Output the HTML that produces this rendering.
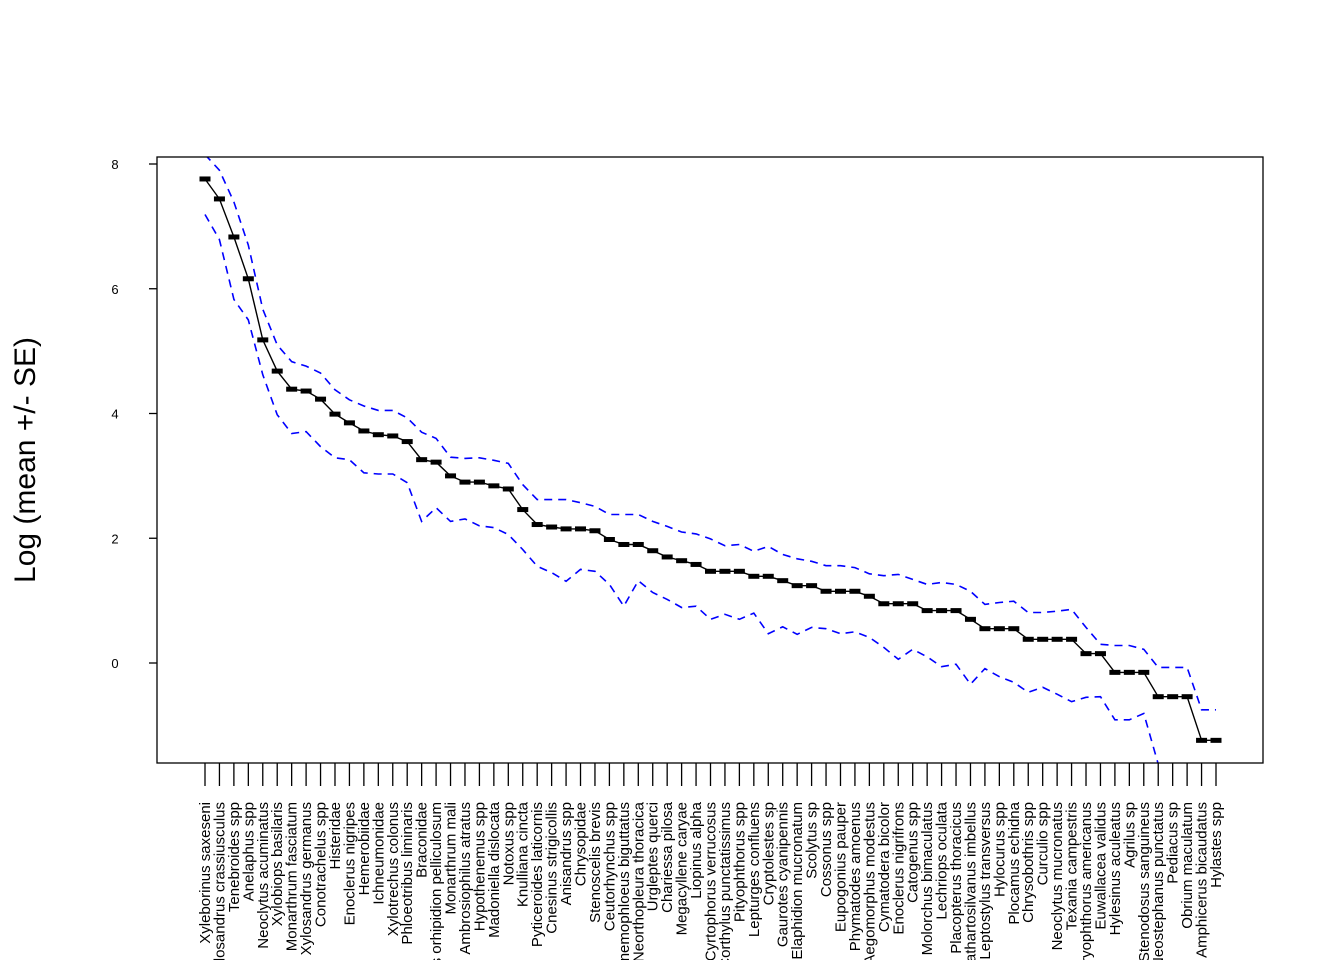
<!DOCTYPE html>
<html><head><meta charset="utf-8"><style>
html,body{margin:0;padding:0;background:#fff;width:1344px;height:960px;overflow:hidden}
svg{display:block;font-family:"Liberation Sans",Arial,sans-serif;overflow:hidden}
</style></head><body>
<svg id="chart" width="1344" height="960" viewBox="0 0 1344 960" xmlns="http://www.w3.org/2000/svg">
<defs>
<clipPath id="pc"><rect x="157" y="157" width="1106" height="606"/></clipPath>
<clipPath id="fc"><rect x="0" y="0" width="1344" height="960"/></clipPath>
</defs>
<rect x="0" y="0" width="1344" height="960" fill="#fff"/>
<g id="bands" clip-path="url(#pc)"></g>
<g id="marks" clip-path="url(#pc)"></g>
<rect x="157" y="157" width="1106" height="606" fill="none" stroke="#000" stroke-width="1.3"/>
<g id="yaxis"></g>
<g id="xaxis" clip-path="url(#fc)"></g>
<text transform="translate(35,460) rotate(-90)" text-anchor="middle" font-size="30">Log (mean +/- SE)</text>
</svg>
<script>
const categories = ["Xyleborinus saxeseni","Xylosandrus crassiusculus","Tenebroides spp","Anelaphus spp","Neoclytus acuminatus","Xylobiops basilaris","Monarthrum fasciatum","Xylosandrus germanus","Conotrachelus spp","Histeridae","Enoclerus nigripes","Hemerobiidae","Ichneumonidae","Xylotrechus colonus","Phloeotribus liminaris","Braconidae","Euderces orhipidion pelliculosum","Monarthrum mali","Ambrosiophilus atratus","Hypothenemus spp","Madoniella dislocata","Notoxus spp","Knulliana cincta","Pyticeroides laticornis","Cnesinus strigicollis","Anisandrus spp","Chrysopidae","Stenoscelis brevis","Ceutorhynchus spp","Cnemophloeus biguttatus","Neorthopleura thoracica","Urgleptes querci","Chariessa pilosa","Megacyllene caryae","Liopinus alpha","Cyrtophorus verrucosus","Corthylus punctatissimus","Pityophthorus spp","Lepturges confluens","Cryptolestes sp","Gaurotes cyanipennis","Elaphidion mucronatum","Scolytus sp","Cossonus spp","Eupogonius pauper","Phymatodes amoenus","Aegomorphus modestus","Cymatodera bicolor","Enoclerus nigrifrons","Catogenus spp","Molorchus bimaculatus","Lechriops oculata","Placopterus thoracicus","Cathartosilvanus imbellus","Leptostylus transversus","Hylocurus spp","Plocamus echidna","Chrysobothris spp","Curculio spp","Neoclytus mucronatus","Texania campestris","Dryophthorus americanus","Euwallacea validus","Hylesinus aculeatus","Agrilus sp","Stenodosus sanguineus","Neostephanus punctatus","Pediacus sp","Obrium maculatum","Amphicerus bicaudatus","Hylastes spp"];
const means = [7.76,7.44,6.83,6.16,5.18,4.68,4.39,4.36,4.23,3.99,3.85,3.72,3.66,3.64,3.55,3.26,3.22,3.00,2.90,2.90,2.84,2.79,2.46,2.22,2.18,2.15,2.15,2.12,1.98,1.90,1.90,1.80,1.70,1.64,1.58,1.47,1.47,1.47,1.39,1.39,1.32,1.24,1.24,1.15,1.15,1.15,1.07,0.95,0.95,0.95,0.84,0.84,0.84,0.70,0.55,0.55,0.55,0.38,0.38,0.38,0.38,0.15,0.15,-0.15,-0.15,-0.15,-0.54,-0.54,-0.54,-1.24,-1.24];
const upper = [8.15,7.9,7.39,6.7,5.67,5.1,4.83,4.76,4.65,4.38,4.22,4.12,4.05,4.05,3.93,3.7,3.6,3.3,3.28,3.29,3.25,3.2,2.86,2.62,2.62,2.62,2.57,2.51,2.38,2.38,2.38,2.27,2.19,2.1,2.07,1.99,1.88,1.9,1.79,1.87,1.74,1.67,1.63,1.56,1.56,1.53,1.43,1.40,1.42,1.34,1.26,1.29,1.26,1.15,0.94,0.97,0.99,0.81,0.81,0.83,0.86,0.57,0.30,0.28,0.28,0.22,-0.07,-0.07,-0.07,-0.75,-0.75];
const lower = [7.19,6.79,5.83,5.5,4.62,3.98,3.68,3.71,3.47,3.29,3.26,3.05,3.03,3.03,2.89,2.27,2.49,2.27,2.31,2.2,2.17,2.06,1.82,1.55,1.45,1.31,1.5,1.47,1.26,0.91,1.32,1.13,1.02,0.89,0.91,0.7,0.78,0.7,0.8,0.47,0.58,0.46,0.57,0.55,0.47,0.5,0.41,0.25,0.06,0.22,0.1,-0.06,-0.02,-0.34,-0.09,-0.22,-0.31,-0.47,-0.39,-0.5,-0.62,-0.55,-0.54,-0.91,-0.91,-0.81,-1.62,-1.62,-1.8,null,null];
const yTicks = [0,2,4,6,8];

const NS="http://www.w3.org/2000/svg";
const xs = i => 205 + i*(1216-205)/(categories.length-1);
const ys = v => 663 - v*62.375;
function mk(tag, attrs, parent){const e=document.createElementNS(NS,tag);for(const k in attrs)e.setAttribute(k,attrs[k]);parent.appendChild(e);return e;}
const bands=document.getElementById('bands'), marks=document.getElementById('marks');
function pathOf(arr){let d='',pen=false;arr.forEach((v,i)=>{if(v===null){pen=false;return;}d+=(pen?'L':'M')+xs(i).toFixed(1)+','+ys(v).toFixed(1);pen=true;});return d;}
const up=mk('path',{d:pathOf(upper),fill:'none',stroke:'#0000ff','stroke-width':1.6,'stroke-dasharray':'8,6'},bands);


const lo=mk('path',{d:pathOf(lower),fill:'none',stroke:'#0000ff','stroke-width':1.6,'stroke-dasharray':'8,6'},bands);


const ml=mk('path',{d:pathOf(means),fill:'none',stroke:'#000','stroke-width':1.4},marks);


means.forEach((v,i)=>{
  const r=mk('rect',{x:xs(i)-5.5,y:ys(v)-2.5,width:11,height:5,fill:'#000'},marks);
  
  
});
const ya=document.getElementById('yaxis');
yTicks.forEach(t=>{
  const l=mk('line',{x1:149,x2:157,y1:ys(t),y2:ys(t),stroke:'#000','stroke-width':1.3},ya);
  
  
  const tx=mk('text',{x:115,y:ys(t)+5,'text-anchor':'middle','font-size':13},ya);
  tx.textContent=t;
  
  
});
const xa=document.getElementById('xaxis');
categories.forEach((c,i)=>{
  const x=xs(i);
  const l=mk('line',{x1:x,x2:x,y1:763,y2:786,stroke:'#000','stroke-width':1.3},xa);
  
  
  const tx=mk('text',{transform:`translate(${(x+5).toFixed(1)},802) rotate(-90)`,'text-anchor':'end','font-size':15},xa);
  tx.textContent=c;
  
  
});
</script>
</body></html>
